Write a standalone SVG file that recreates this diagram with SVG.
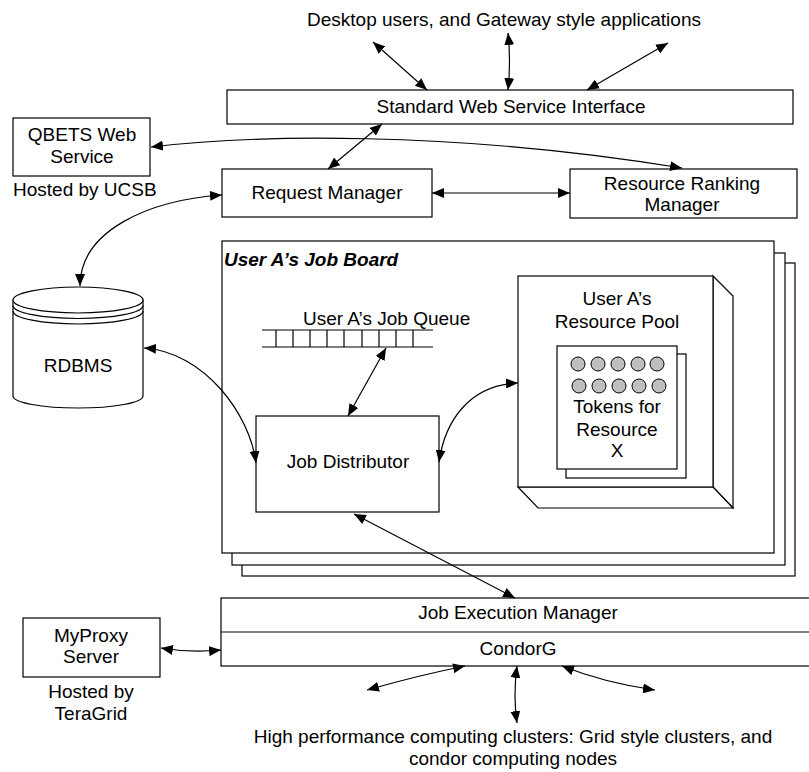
<svg xmlns="http://www.w3.org/2000/svg" width="809" height="772" viewBox="0 0 809 772">
<defs>
<marker id="ah" viewBox="0 0 12 10" refX="12" refY="5" markerWidth="12" markerHeight="10" orient="auto-start-reverse" markerUnits="userSpaceOnUse"><path d="M0,0 L12,5 L0,10 z" fill="#000"/></marker>
<style>
.box{fill:#fff;stroke:#000;stroke-width:1.2}
.ln{fill:none;stroke:#000;stroke-width:1.2}
.t{font-family:"Liberation Sans",Arial,sans-serif;font-size:19px;fill:#000}
.c{text-anchor:middle}
.bi{font-weight:bold;font-style:italic}
.tok{fill:#bfbfbf;stroke:#000;stroke-width:1}
.conn{fill:none;stroke:#000;stroke-width:1.2;marker-start:url(#ah);marker-end:url(#ah)}
</style>
</defs>
<rect width="809" height="772" fill="#fff"/>

<g id="desktop-users">
<text class="t c" x="504" y="26">Desktop users, and Gateway style applications</text>
</g>

<g id="web-service-interface">
<rect class="box" x="227" y="90" width="566" height="34"/>
<text class="t c" x="511" y="113">Standard Web Service Interface</text>
</g>

<g id="qbets">
<rect class="box" x="13" y="118" width="137" height="58"/>
<text class="t c" x="82" y="141">QBETS Web</text>
<text class="t c" x="82" y="163">Service</text>
<text class="t" x="13" y="196">Hosted by UCSB</text>
</g>

<g id="request-manager">
<rect class="box" x="222" y="169" width="210" height="48"/>
<text class="t c" x="327" y="199">Request Manager</text>
</g>

<g id="resource-ranking">
<rect class="box" x="570" y="169" width="227" height="49"/>
<text class="t c" x="682" y="190">Resource Ranking</text>
<text class="t c" x="682" y="211">Manager</text>
</g>

<g id="rdbms">
<path class="box" d="M13,300 L13,396 A65,12 0 0 0 143,396 L143,300 z"/>
<ellipse class="box" cx="78" cy="300" rx="65" ry="13"/>
<path class="ln" d="M13,305.5 A65,13 0 0 0 143,305.5"/>
<path class="ln" d="M13,311 A65,13 0 0 0 143,311"/>
<text class="t c" x="78" y="372">RDBMS</text>
</g>

<g id="job-board">
<rect class="box" x="242" y="263" width="553" height="313"/>
<rect class="box" x="232" y="253" width="553" height="312"/>
<rect class="box" x="222" y="241" width="552" height="312"/>
<text class="t bi" x="224" y="266">User A’s Job Board</text>
</g>

<g id="job-queue">
<text class="t" x="303" y="325">User A’s Job Queue</text>
<path class="ln" d="M262,330 H433 M262,347 H433 M276,330 V347 M293,330 V347 M310,330 V347 M327,330 V347 M344,330 V347 M362,330 V347 M379,330 V347 M396,330 V347 M413,330 V347"/>
</g>

<g id="job-distributor">
<rect class="box" x="256" y="416" width="183" height="96"/>
<text class="t c" x="348" y="468">Job Distributor</text>
</g>

<g id="resource-pool">
<path class="box" d="M713,276 L733,296 L733,508 L713,487 z"/>
<path class="box" d="M518,487 L538,508 L733,508 L713,487 z"/>
<rect class="box" x="518" y="276" width="195" height="211"/>
<text class="t c" x="617" y="305">User A’s</text>
<text class="t c" x="617" y="328">Resource Pool</text>
<rect class="box" x="566" y="354" width="120" height="124"/>
<rect class="box" x="557" y="346" width="120" height="123"/>
<circle class="tok" cx="578" cy="364" r="7"/>
<circle class="tok" cx="598" cy="364" r="7"/>
<circle class="tok" cx="618" cy="364" r="7"/>
<circle class="tok" cx="638" cy="364" r="7"/>
<circle class="tok" cx="657" cy="364" r="7"/>
<circle class="tok" cx="579" cy="386" r="7"/>
<circle class="tok" cx="599" cy="386" r="7"/>
<circle class="tok" cx="619" cy="386" r="7"/>
<circle class="tok" cx="639" cy="386" r="7"/>
<circle class="tok" cx="659" cy="386" r="7"/>
<text class="t c" x="617" y="413">Tokens for</text>
<text class="t c" x="617" y="436">Resource</text>
<text class="t c" x="617" y="457">X</text>
</g>

<g id="job-execution-manager">
<rect class="box" x="221" y="598" width="600" height="68"/>
<path class="ln" d="M221,632 H821"/>
<text class="t c" x="518" y="619">Job Execution Manager</text>
<text class="t c" x="518" y="655">CondorG</text>
</g>

<g id="myproxy">
<rect class="box" x="23" y="618" width="137" height="59"/>
<text class="t c" x="91" y="642">MyProxy</text>
<text class="t c" x="91" y="663">Server</text>
<text class="t c" x="91" y="698">Hosted by</text>
<text class="t c" x="91" y="720">TeraGrid</text>
</g>

<g id="clusters">
<text class="t c" x="513" y="743">High performance computing clusters: Grid style clusters, and</text>
<text class="t c" x="513" y="765">condor computing nodes</text>
</g>

<g id="connectors">
<path class="conn" d="M373,42 L427,90"/>
<path class="conn" d="M508,33 Q511,61 508,90"/>
<path class="conn" d="M668,43 L587,90"/>
<path class="conn" d="M382,124 L328,169"/>
<path class="conn" d="M151,147 C250,135 450,130 682,168"/>
<path class="conn" d="M432,193 L570,193"/>
<path class="conn" d="M80,286 C80,230 150,200 222,195"/>
<path class="conn" d="M144,348 C205,352 250,415 256,463"/>
<path class="conn" d="M386,348 L348,416"/>
<path class="conn" d="M439,462 C445,420 470,385 518,383"/>
<path class="conn" d="M354,514 L515,598"/>
<path class="conn" d="M161,648 Q190,653 221,650"/>
<path class="conn" d="M465,666 Q420,675 367,690"/>
<path class="conn" d="M517,666 Q513,695 517,723"/>
<path class="conn" d="M562,666 Q605,683 655,690"/>
</g>
</svg>
